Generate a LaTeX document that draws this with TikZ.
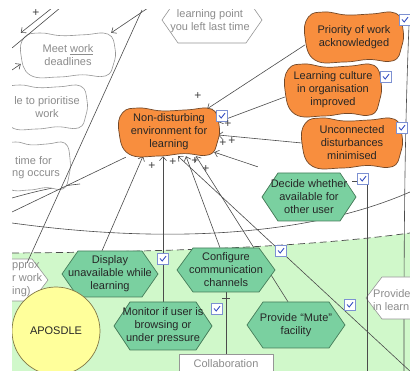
\documentclass[tikz,border=0pt]{standalone}
\usepackage{fontspec}
\setmainfont{Liberation Sans}
\usetikzlibrary{arrows.meta}
\definecolor{orangefill}{RGB}{248,142,62}
\definecolor{orangeline}{RGB}{115,72,40}
\definecolor{hexfill}{RGB}{122,208,160}
\definecolor{hexline}{RGB}{70,125,90}
\definecolor{bggreen}{RGB}{208,248,202}
\definecolor{yel}{RGB}{255,255,155}
\definecolor{yelline}{RGB}{130,120,70}
\definecolor{graytext}{RGB}{140,140,140}
\definecolor{grayline}{RGB}{150,150,150}
\definecolor{linkc}{RGB}{75,75,75}
\definecolor{chkline}{RGB}{125,145,210}
\definecolor{chkmark}{RGB}{55,80,195}
\newcommand{\blobshape}[5]{%
\draw[#5] plot[smooth cycle, tension=0.75] coordinates {
 ({#1-#3},{#2}) ({#1-0.93*#3},{#2-0.8*#4}) ({#1-0.6*#3},{#2-#4}) ({#1-0.15*#3},{#2-0.88*#4})
 ({#1+0.35*#3},{#2-0.92*#4}) ({#1+0.85*#3},{#2-0.95*#4}) ({#1+#3},{#2-0.3*#4})
 ({#1+0.97*#3},{#2+0.4*#4}) ({#1+0.8*#3},{#2+0.95*#4}) ({#1+0.3*#3},{#2+0.9*#4})
 ({#1-0.2*#3},{#2+#4}) ({#1-0.8*#3},{#2+0.92*#4}) };}
\newcommand{\hexshape}[5]{%
\draw[#5] ({#1-#3},{#2}) -- ({#1-#3+16},{#2-#4}) -- ({#1+#3-16},{#2-#4}) -- ({#1+#3},{#2})
 -- ({#1+#3-16},{#2+#4}) -- ({#1-#3+16},{#2+#4}) -- cycle;}
\begin{document}
\begin{tikzpicture}[x=1pt,y=-1pt,
 txt/.style={font=\fontsize{11}{13}\selectfont, align=center, inner sep=0pt},
 goaltxt/.style={txt, text=black!85},
 graytxt/.style={txt, text=graytext},
 sgshape/.style={fill=orangefill, draw=orangeline, line width=0.7pt},
 wshape/.style={fill=white, draw=grayline, line width=0.6pt},
 hshape/.style={fill=hexfill, draw=hexline, line width=0.7pt},
 link/.style={draw=linkc, line width=0.6pt},
 arr/.style={link, -{Straight Barb[length=4pt,width=7pt]}},
 plus/.style={font=\fontsize{12}{12}\selectfont, inner sep=0pt, text=black!75},
 chk/.style={draw=chkline, fill=white, minimum size=11pt, inner sep=0pt, line width=0.6pt,
  path picture={\draw[chkmark, line width=0.9pt]
   ([shift={(-3pt,0.5pt)}]path picture bounding box.center) --
   ([shift={(-0.8pt,-2pt)}]path picture bounding box.center) --
   ([shift={(3pt,2.8pt)}]path picture bounding box.center);}}
]
\useasboundingbox (0,0) rectangle (410,371);
\fill[white] (0,0) rectangle (410,371);
\begin{scope}
\clip (12,10) rectangle (410,371);
% green actor region
\fill[bggreen] (12,253) .. controls (150,252) and (300,248) .. (410,233) -- (410,371) -- (12,371) -- cycle;
\draw[linkc, line width=0.7pt, dash pattern=on 7pt off 4pt] (12,253) .. controls (150,252) and (300,248) .. (410,233);
% large boundary curves
\draw[link] (12,223) .. controls (150,242) and (300,240) .. (410,192);
\draw[link] (409,25) .. controls (404,150) and (404,260) .. (404,371);
\draw[link] (12,198) .. controls (40,190) and (60,186) .. (80,184);
% white background elements
\blobshape{68}{55}{47}{22}{wshape}
\blobshape{45}{107}{42}{22}{wshape}
\blobshape{36}{166}{34}{24}{wshape}
\hexshape{212}{20}{50}{23}{wshape}
\hexshape{20}{280}{28}{21}{wshape}
\hexshape{396}{298}{30}{21}{wshape}
\node[graytxt, minimum width=94pt, minimum height=44pt] (meet) at (68,55) {Meet \underline{work}\\deadlines};
\node[graytxt, minimum width=80pt, minimum height=44pt] (prio) at (47,107) {le to prioritise\\work};
\node[graytxt, anchor=west] (time1) at (15,161) {time for};
\node[graytxt, anchor=west] (time2) at (12,175) {ng occurs};
\node[graytxt, minimum width=100pt, minimum height=40pt] (lp) at (210,21) {learning point\\you left last time};
\node[graytxt, anchor=west, align=left] (apx) at (12,280) {pprox\\r work\\ing)};
\node[graytxt, anchor=west, align=left] (prov) at (373,300) {Provide\\in learn};
% connectors
\draw[arr] (52,8) -- (meet.north west);
\draw[link] (12,48) -- (60,8);
\draw[arr] (12,70) -- ([yshift=-9pt]meet.west);
\draw[arr] (148,8) -- ([xshift=-4pt]meet.north east);
\draw[link] (142,10) -- (apx.north);
\end{scope}
\begin{scope}
\clip (12,10) rectangle (410,371);
\node[goaltxt, minimum width=98pt, minimum height=46pt] (nd) at (169,132) {};
\node[goaltxt, minimum width=98pt, minimum height=50pt] (pr) at (354,37) {};
\node[goaltxt, minimum width=96pt, minimum height=52pt] (lc) at (333,90) {};
\node[goaltxt, minimum width=100pt, minimum height=50pt] (uc) at (352,143) {};
\node[goaltxt, minimum width=94pt, minimum height=48pt] (dw) at (309,197) {};
\node[goaltxt, minimum width=96pt, minimum height=46pt] (du) at (110,274) {};
\node[goaltxt, minimum width=98pt, minimum height=44pt] (cc) at (226,270) {};
\node[goaltxt, minimum width=98pt, minimum height=48pt] (mb) at (163,326) {};
\node[goaltxt, minimum width=98pt, minimum height=46pt] (pm) at (296,325) {};
% connectors into ND
\draw[arr] ([yshift=-8pt]pr.west) -- ([xshift=-11pt]nd.north east);
\draw[arr] ([yshift=-7pt]lc.west) -- ([yshift=10pt]nd.east);
\draw[arr] (uc.west) -- ([yshift=-3pt]nd.east);
\draw[arr] ([xshift=-4pt,yshift=6pt]dw.north west) -- ([xshift=-4pt,yshift=3pt]nd.south east);
\draw[arr] ([xshift=-8pt]du.north) -- ([xshift=-26pt,yshift=-1pt]nd.south);
\draw[arr] (mb.north -| 163,0) -- ([xshift=-6pt,yshift=-1pt]nd.south);
\draw[arr] ([xshift=-6pt]cc.north) -- ([xshift=17pt,yshift=-1pt]nd.south);
\draw[arr] ([xshift=-8pt]pm.north) -- ([xshift=27pt,yshift=-1pt]nd.south);
\coordinate (far) at (412,373);
\draw[arr] (far) -- ([xshift=9pt,yshift=-1pt]nd.south);
\draw[link] ([xshift=6pt,yshift=-2pt]nd.south west) -- (12,212);
\draw[link] (dw.south -| 367,0) ++(0,-48) -- (367,371);
\draw[link] (cc.south) -- (226,356);
\draw[link] (222,298) -- (230,298);
\draw[link] (352,181) -- (358,181);
% shapes
\blobshape{169}{132}{50}{24}{sgshape}
\blobshape{354}{37}{49}{25}{sgshape}
\blobshape{333}{90}{48}{26}{sgshape}
\blobshape{352}{143}{50}{25}{sgshape}
\hexshape{309}{197}{47}{24}{hshape}
\hexshape{110}{274}{48}{23}{hshape}
\hexshape{226}{270}{49}{22}{hshape}
\hexshape{163}{326}{49}{24}{hshape}
\hexshape{296}{325}{49}{23}{hshape}
% texts
\node[goaltxt] (ndt) at (nd) {Non-disturbing\\environment for\\learning};
\node[goaltxt] (prt) at (pr) {Priority of work\\acknowledged};
\node[goaltxt] (lct) at (lc) {Learning culture\\in organisation\\improved};
\node[goaltxt] (uct) at (uc) {Unconnected\\disturbances\\minimised};
\node[goaltxt] (dwt) at (dw) {Decide whether\\available for\\other user};
\node[goaltxt] (dut) at (du) {Display\\unavailable while\\learning};
\node[goaltxt] (cct) at (cc) {Configure\\communication\\channels};
\node[goaltxt] (mbt) at (mb) {Monitor if user is\\browsing or\\under pressure};
\node[goaltxt] (pmt) at (pm) {Provide ``Mute''\\facility};
% APOSDLE and Collaboration
\node[circle, fill=yel, draw=yelline, line width=0.7pt, minimum size=88pt, inner sep=0pt] (apo) at (56,331) {};
\node[goaltxt] (apot) at (apo) {APOSDLE};
\node[graytxt, draw=grayline, fill=white, minimum width=94pt, minimum height=24pt, anchor=north, line width=0.6pt] (col) at (226,354) {};
\node[graytxt] (colt) at (226,364) {Collaboration};
% checkboxes
\node[chk] (c1) at (405,20) {};
\node[chk] (c2) at (386,77) {};
\node[chk] (c3) at (402,128) {};
\node[chk] (c4) at (222,116) {};
\node[chk] (c5) at (363,179) {};
\node[chk] (c6) at (163,259) {};
\node[chk] (c7) at (281,251) {};
\node[chk] (c8) at (217,309) {};
\node[chk] (c9) at (350,305) {};
% plus signs
\node[plus] (p0) at (36,13) {+};
\node[plus] (p1) at (198,96) {+};
\node[plus] (p2) at (228,124) {+};
\node[plus] (p3) at (223,143) {+};
\node[plus] (p4) at (232,141) {+};
\node[plus] (p5) at (152,166) {+};
\node[plus] (p6) at (173,162) {+};
\node[plus] (p7) at (195,161) {+};
\node[plus] (p8) at (206,169) {+};
\end{scope}
\end{tikzpicture}
\end{document}
